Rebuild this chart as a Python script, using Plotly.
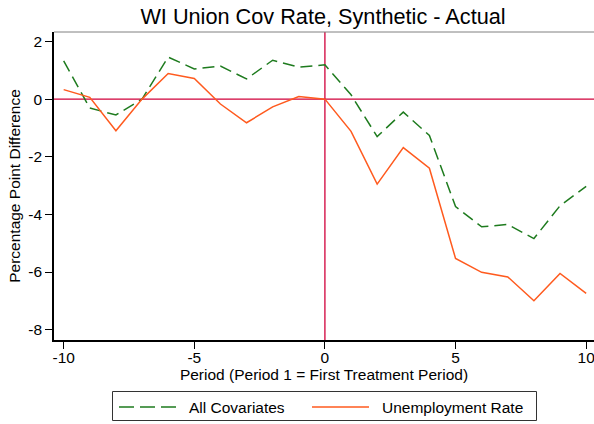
import plotly.graph_objects as go

periods = list(range(-10, 11))
all_covariates = [1.33, -0.31, -0.55, 0.0, 1.46, 1.05, 1.15, 0.70, 1.35, 1.11, 1.19,
                  0.15, -1.30, -0.45, -1.26, -3.73, -4.43, -4.35, -4.84, -3.70, -3.03]
unemployment_rate = [0.33, 0.06, -1.10, 0.0, 0.89, 0.72, -0.17, -0.82, -0.27, 0.09, 0.0,
                     -1.12, -2.95, -1.68, -2.40, -5.53, -6.01, -6.17, -7.00, -6.05, -6.74]
x_ticks = [-10, -5, 0, 5, 10]
x_tick_labels = ["-10", "-5", "0", "5", "10"]
y_ticks = [-8, -6, -4, -2, 0, 2]
y_tick_labels = ["-8", "-6", "-4", "-2", "0", "2"]
series_names = ["All Covariates", "Unemployment Rate"]
series_colors = ["#1E7B1E", "#FF5A1E"]
series_dash = ["12px,6px", "solid"]
legend_dash = ["15px,6px", "solid"]

FONT = "Liberation Sans, Arial, sans-serif"
RED = "#D0003A"

# plot area in pixels
L, R, T, B = 54, 594, 32, 340
W, H = 594, 424


def px(xp):
    return (xp - L) / (R - L)


def py(yp):
    return (B - yp) / (B - T)


fig = go.Figure()
for name, vals, col, dash in zip(series_names, [all_covariates, unemployment_rate],
                                 series_colors, series_dash):
    fig.add_trace(go.Scatter(x=periods, y=vals, mode="lines", name=name, showlegend=False,
                             hoverinfo="skip",
                             line=dict(color=col, width=1.5, dash=dash)))

fig.add_hline(y=0, line=dict(color=RED, width=1.3), layer="below")
fig.add_vline(x=0, line=dict(color=RED, width=1.3), layer="below")
# top border of plot region
fig.add_shape(type="line", xref="paper", yref="paper", x0=0, x1=1, y0=1, y1=1,
              line=dict(color="#808080", width=1))

# custom legend (Stata style)
fig.add_shape(type="rect", xref="paper", yref="paper",
              x0=px(112.5), x1=px(536.5), y0=py(420.5), y1=py(391.5),
              line=dict(color="#333333", width=1), fillcolor="white")
legend_items = [(119, 177, 187), (312, 369, 380)]
for (s0, s1, tx), name, col, dash in zip(legend_items, series_names, series_colors, legend_dash):
    fig.add_shape(type="line", xref="paper", yref="paper", x0=px(s0), x1=px(s1),
                  y0=py(407), y1=py(407), line=dict(color=col, width=1.5, dash=dash))
    fig.add_annotation(xref="paper", yref="paper", x=px(tx), y=py(407), text=name,
                       showarrow=False, xanchor="left", yanchor="middle",
                       font=dict(size=15.5, family=FONT, color="black"))

fig.update_layout(
    width=W, height=H,
    margin=dict(l=L, r=W - R, t=T, b=H - B, autoexpand=False),
    paper_bgcolor="white", plot_bgcolor="white",
    font=dict(family=FONT, size=15.5, color="black"),
    title=dict(text="WI Union Cov Rate, Synthetic - Actual", x=(323 / W), xanchor="center",
               y=1 - 16 / H, yanchor="middle", font=dict(size=21.7, family=FONT)),
    xaxis=dict(range=[-10.37, 10.3], tickvals=x_ticks, ticktext=x_tick_labels,
               ticks="outside", ticklen=7, tickwidth=1.2, tickcolor="black",
               ticklabelstandoff=-4, ticklabeloverflow="allow",
               showgrid=False, zeroline=False, automargin=False,
               showline=True, linecolor="black", linewidth=1.5,
               title=dict(text="Period (Period 1 = First Treatment Period)", standoff=4,
                          font=dict(size=15.5))),
    yaxis=dict(range=[-8.36, 2.33], tickvals=y_ticks, ticktext=y_tick_labels,
               ticks="outside", ticklen=7, tickwidth=1.2, tickcolor="black",
               ticklabeloverflow="allow",
               showgrid=False, zeroline=False, automargin=False,
               showline=True, linecolor="black", linewidth=1.5,
               title=dict(text="Percentage Point Difference", standoff=4,
                          font=dict(size=15.5))),
    showlegend=False,
)

fig.write_html("out.html", config={"displayModeBar": False},
               post_script="document.body.style.margin='0';")
